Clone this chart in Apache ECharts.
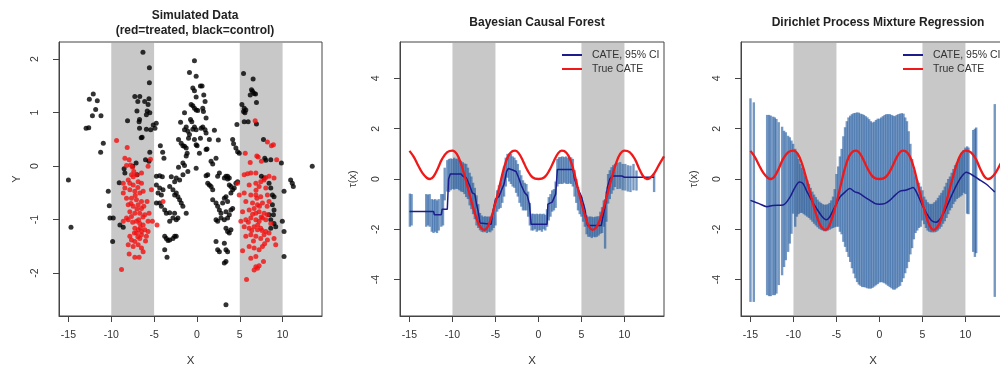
<!DOCTYPE html>
<html>
<head>
<meta charset="utf-8">
<script src="https://cdn.jsdelivr.net/npm/echarts@6/dist/echarts.min.js"></script>
<style>
  html, body { margin: 0; padding: 0; background: #fff; }
  #chart { width: 1000px; height: 366px; }
</style>
</head>
<body>
<div id="chart"></div>
<script>
// tick positions
var xTicks = [-15, -10, -5, 0, 5, 10];
var yTicksData = [-2, -1, 0, 1, 2];
var yTicksTau = [-4, -2, 0, 2, 4];

// shaded x-ranges
var shadedBands = [[-10, -5], [5, 10]];

// simulated data, [x, y]
var controlPoints = [
  [-15.0,-0.26],[-14.7,-1.14],
  [-12.94,0.71],[-12.63,0.72],[-12.56,1.25],[-12.1,1.35],[-11.63,1.22],[-11.82,1.06],[-12.2,0.94],[-11.2,0.94],[-10.93,0.43],[-11.24,0.26],
  [-10.35,-0.47],[-10.23,-0.74],[-10.15,-0.97],[-9.77,-0.97],[-9.84,-1.41],[-9.07,-0.31],[-8.99,-1.1],[-8.6,-1.14],[-8.41,-0.13],[-8.5,-0.05],[-8.1,0.85],
  [-6.98,-0.16],[-7.1,0.06],[-7.5,0.0],
  [-7.25,1.30],[-6.67,1.30],[-6.9,1.21],[-6.1,1.21],[-5.6,1.26],[-5.7,1.15],[-7.0,1.03],[-5.8,1.03],[-6.7,0.87],[-6.75,0.83],[-5.9,0.96],[-5.5,1.0],
  [-6.7,0.71],[-5.9,0.69],[-5.4,0.68],[-4.9,0.71],[-4.75,0.80],[-5.1,0.77],[-6.4,0.54],[-6.5,0.53],[-5.5,0.26],[-6.3,2.13],[-5.55,1.84],[-5.55,1.56],[-5.6,0.09],[-6.0,0.12],
  [-4.27,0.38],[-4.0,0.26],[-3.85,0.15],
  [-4.73,-0.19],[-4.35,-0.18],[-4.04,-0.2],[-2.99,-0.2],[-2.6,-0.29],[-2.41,-0.22],[-2.02,-0.26],[-1.63,-0.16],
  [-4.73,-0.35],[-4.35,-0.41],[-4.54,-0.5],[-4.15,-0.54],[-3.96,-0.44],[-3.18,-0.38],[-2.8,-0.44],[-2.6,-0.54],[-2.41,-0.5],[-2.22,-0.57],[-2.02,-0.63],[-1.83,-0.69],
  [-4.73,-0.69],[-4.35,-0.69],[-4.15,-0.75],[-3.76,-0.82],[-3.57,-0.88],[-3.18,-0.87],[-2.8,-0.97],[-2.41,-1.0],[-3.18,-1.03],
  [-3.76,-1.31],[-3.57,-1.35],[-3.38,-1.39],[-3.18,-1.38],[-2.8,-1.35],[-2.6,-1.31],[-3.76,-1.56],[-3.49,-1.7],
  [-2.61,-0.88],[-2.22,-0.97],[-2.42,-1.31],[-1.25,-0.88],[-1.64,-0.75],[-1.06,-0.10],
  [-0.29,1.97],[-0.87,1.75],[-0.09,1.68],[0.41,1.50],[0.60,1.50],[-0.48,1.46],[-0.29,1.41],[0.80,1.33],[0.95,1.21],[-0.09,1.29],
  [-0.68,1.15],[-0.48,1.13],[-0.29,1.08],[-0.09,1.05],[0.1,1.04],[0.68,1.08],[0.76,1.02],[-1.45,1.0],[1.07,0.9],[-0.75,0.87],[-0.6,0.83],
  [-1.91,0.82],[-1.25,0.73],[-1.45,0.68],[-0.29,0.73],[-0.09,0.68],[-0.48,0.69],[0.49,0.71],[0.68,0.73],[0.95,0.68],[1.07,0.62],[2.04,0.67],
  [-1.06,0.65],[-0.87,0.59],[-0.98,0.52],[0.41,0.52],[-0.29,0.50],[-2.15,0.50],[1.45,0.50],[2.5,0.49],[-1.84,0.43],[-1.64,0.38],[-1.45,0.37],
  [-1.25,0.34],[-0.09,0.40],[0.02,0.38],[1.18,0.32],[1.07,0.31],[0.29,0.24],[-1.14,0.24],[-1.25,0.19],[2.23,0.15],[1.65,0.09],[1.84,0.04],
  [-2.15,-0.02],[-0.09,-0.04],[-1.64,0.06],[-1.45,0.01],[1.26,-0.16],[2.62,-0.13],[3.39,-0.19],[3.78,-0.22],[3.58,-0.24],
  [4.28,0.42],[4.55,0.34],[4.75,0.27],[4.94,0.24],[4.67,0.78],[4.17,0.50],
  [5.44,1.73],[6.56,1.63],[6.37,1.43],[6.49,1.4],[6.68,1.36],[6.84,1.35],[6.22,1.33],[6.95,1.19],[5.25,1.15],[5.52,1.08],[5.71,1.05],
  [5.44,1.02],[5.6,1.0],[5.52,0.83],[5.98,0.83],[6.95,0.79],[7.77,0.50],[8.62,0.12],[9.86,0.06],[7.92,0.15],[8.04,0.11],[13.46,0.0],
  [1.07,-0.18],[1.26,-0.32],[1.45,-0.35],[1.65,-0.38],[1.84,-0.44],[2.42,-0.19],[3.2,-0.22],[3.58,-0.19],[3.78,-0.35],[3.97,-0.38],
  [1.84,-0.63],[2.23,-0.69],[2.42,-0.75],[2.62,-0.82],[2.81,-0.88],[3.0,-0.69],[3.2,-0.6],[3.39,-0.57],[3.58,-0.66],[3.97,-0.5],
  [4.17,-0.44],[4.36,-0.41],[4.55,-0.32],[4.75,-0.29],
  [2.23,-1.0],[2.42,-1.03],[2.81,-0.97],[3.2,-1.0],[3.58,-0.97],[3.78,-0.91],[3.39,-0.85],[3.97,-0.82],[4.17,-0.79],
  [3.39,-1.16],[3.58,-1.22],[3.78,-1.25],[3.97,-1.19],
  [2.23,-1.41],[2.42,-1.56],[2.62,-1.6],[3.2,-1.44],[3.39,-1.56],[3.58,-1.6],[3.39,-1.78],[3.2,-1.81],[3.39,-2.59],
  [7.84,-0.22],[8.42,-0.32],[8.62,-0.41],[8.81,-0.54],[9.0,-0.57],[8.81,-0.72],[9.0,-0.82],[8.93,-0.91],[9.0,-1.07],[9.2,-1.13],
  [8.42,-0.91],[8.62,-1.0],[8.62,-1.16],[9.97,-1.03],[10.17,-1.22],[10.17,-1.69],[10.17,-0.47],[10.94,-0.26],[11.13,-0.32],[11.25,-0.38],[7.53,-0.19]
];

var treatedPoints = [
  [-9.38,0.48],[-8.14,0.35],[-8.41,0.15],[-7.91,0.12],[-7.75,0.02],[-5.43,0.13],[-5.7,0.0],[-8.22,0.01],[-7.52,-0.02],[-7.37,-0.1],[-7.64,-0.16],
  [-7.06,-0.16],[-6.47,-0.13],[-7.44,-0.2],[-8.02,-0.26],[-7.83,-0.32],[-7.44,-0.35],[-6.86,-0.29],[-6.47,-0.32],[-8.6,-0.32],[-8.41,-0.41],
  [-8.6,-0.5],[-7.83,-0.44],[-7.25,-0.47],[-6.67,-0.5],[-6.28,-0.47],[-5.31,-0.44],[-8.22,-0.6],[-7.64,-0.6],[-7.06,-0.63],[-6.47,-0.66],
  [-5.82,-0.66],[-8.02,-0.72],[-7.44,-0.75],[-6.86,-0.72],[-6.47,-0.79],[-7.83,-0.85],[-7.25,-0.88],[-6.67,-0.88],[-6.09,-0.91],[-5.59,-0.88],
  [-8.22,-0.97],[-7.64,-0.94],[-8.02,-1.0],[-8.6,-1.03],[-7.06,-1.03],[-6.67,-1.07],[-6.28,-1.1],[-5.7,-1.03],[-5.2,-1.03],[-4.66,-1.1],
  [-7.25,-1.16],[-6.86,-1.19],[-6.47,-1.22],[-6.09,-1.19],[-5.7,-1.22],[-7.06,-1.25],[-6.47,-1.28],[-5.9,-1.31],[-6.67,-1.35],[-7.83,-1.31],
  [-7.64,-1.38],[-7.25,-1.41],[-8.02,-1.47],[-7.44,-1.5],[-6.86,-1.47],[-6.47,-1.53],[-6.28,-1.6],[-7.91,-1.64],[-7.25,-1.7],[-6.75,-1.7],
  [-8.8,-1.93],[-3.96,-0.66],
  [-7.2,-0.55],[-6.9,-0.4],[-7.0,-0.8],[-6.6,-1.15],[-6.9,-1.32],[-7.5,-1.05],[-6.2,-0.75],[-7.7,-0.7],[-6.0,-1.4],[-6.8,-1.0],[-7.3,-1.25],[-6.3,-0.95],
  [6.80,0.85],[8.23,0.45],[8.7,0.38],[8.93,0.40],[5.64,0.24],[6.22,0.07],[7.53,0.09],[6.99,0.19],[7.15,0.17],[9.31,0.12],[5.52,-0.16],
  [5.91,-0.14],[6.88,-0.13],[8.04,-0.21],[9.0,-0.22],[6.29,-0.13],[8.42,-0.19],[7.45,-0.29],[7.84,-0.26],
  [4.75,-0.32],[6.1,-0.35],[6.88,-0.32],[7.26,-0.38],[8.04,-0.41],
  [4.94,-0.54],[5.52,-0.5],[6.29,-0.54],[6.88,-0.54],[7.45,-0.57],[8.23,-0.54],
  [5.71,-0.66],[6.49,-0.69],[7.07,-0.72],[7.65,-0.69],[8.42,-0.66],
  [5.33,-0.85],[6.1,-0.82],[6.68,-0.79],[6.88,-0.88],[7.26,-0.85],[7.84,-0.88],[8.23,-0.91],
  [5.13,-1.03],[5.71,-1.0],[6.29,-0.97],[6.88,-1.0],[7.26,-1.03],[7.65,-0.97],[8.04,-1.0],[8.62,-1.07],
  [5.52,-1.13],[6.1,-1.16],[6.68,-1.13],[7.07,-1.19],[7.45,-1.16],[8.04,-1.22],[8.42,-1.25],
  [5.71,-1.31],[6.29,-1.28],[6.88,-1.31],[7.45,-1.35],[7.84,-1.28],[8.23,-1.38],[9.0,-1.35],
  [6.1,-1.5],[6.68,-1.53],[7.26,-1.56],[7.65,-1.5],[9.2,-1.47],
  [5.33,-1.58],[6.29,-1.72],[6.88,-1.69],[7.77,-1.78],
  [6.88,-1.88],[7.07,-1.91],[7.26,-1.86],[5.79,-2.12],[6.68,-1.94],
  [7.0,-0.6],[7.3,-0.75],[6.5,-0.9],[7.1,-1.1],[6.4,-1.2],[7.6,-1.2],[6.9,-0.45],[7.5,-0.95],[6.0,-1.05],[8.2,-0.75],[7.9,-1.45],[6.6,-1.4]
];

// true CATE curve, [x, tau]
var trueCate = [
  [-15,1.12],[-14.5,0.88],[-14,0.55],[-13.5,0.24],[-13,0.05],[-12.6,0.0],[-12.2,0.1],[-11.7,0.42],[-11.2,0.8],[-10.6,1.07],[-10,1.13],
  [-9.5,1.0],[-9,0.6],[-8.5,0.02],[-8,-0.62],[-7.5,-1.25],[-7,-1.75],[-6.6,-1.97],[-6.25,-2.02],[-5.9,-1.9],[-5.5,-1.55],[-5,-0.95],
  [-4.5,-0.25],[-4,0.45],[-3.5,0.92],[-3,1.11],[-2.7,1.13],[-2.3,1.03],[-1.8,0.72],[-1.3,0.36],[-0.7,0.07],[0,0.0],[0.7,0.07],
  [1.3,0.36],[1.8,0.72],[2.3,1.03],[2.7,1.13],[3,1.11],[3.5,0.92],[4,0.45],[4.5,-0.25],[5,-0.95],[5.5,-1.55],[5.9,-1.9],[6.25,-2.02],
  [6.6,-1.97],[7,-1.75],[7.5,-1.25],[8,-0.62],[8.5,0.02],[9,0.6],[9.5,1.0],[10,1.13],[10.6,1.07],[11.2,0.8],[11.7,0.42],[12.2,0.1],
  [12.6,0.0],[13,0.05],[13.5,0.24],[14,0.55],[14.6,0.9]
];

// Bayesian causal forest: posterior mean and 95% intervals [x, lower, upper]
var bcfMean = [
  [-15,-1.29],[-12.2,-1.29],[-12.1,-1.42],[-11.3,-1.42],[-11.2,-1.2],[-10.6,-1.2],[-10.45,0.0],[-10.25,0.2],[-9.0,0.2],[-8.8,0.12],
  [-8.4,0.05],[-8.2,-0.1],[-7.9,-0.35],[-7.7,-0.55],[-7.4,-0.6],[-7.2,-1.0],[-7.0,-1.3],[-6.8,-1.75],[-5.5,-1.8],[-5.3,-1.3],[-5.0,-0.8],
  [-4.6,-0.7],[-4.3,-0.45],[-4.0,-0.2],[-3.7,0.3],[-3.5,0.42],[-3.0,0.36],[-2.6,0.3],[-2.3,0.05],[-2.0,-0.25],[-1.6,-0.55],[-1.3,-0.65],
  [-1.05,-1.0],[-0.85,-1.8],[1.0,-1.8],[1.1,-1.0],[1.6,-0.92],[2.0,-0.6],[2.2,0.38],[4.0,0.38],[4.2,0.0],[4.6,-0.4],[5.0,-0.7],[5.4,-1.2],
  [5.7,-1.85],[7.3,-1.85],[7.5,-1.5],[7.8,-1.0],[8.0,-0.35],[8.3,0.0],[8.6,0.12],[9.7,0.12],[10.0,0.07],[13.45,0.07]
];
var bcfIntervals = [
  [-14.95,-1.9,-0.58],[-14.75,-1.85,-0.6],[-13.05,-1.9,-0.6],[-12.85,-1.85,-0.62],[-12.65,-1.9,-0.6],[-12.4,-2.1,-0.8],[-12.2,-2.15,-0.82],
  [-12.0,-2.1,-0.8],[-11.8,-2.15,-0.85],[-11.6,-2.05,-0.8],[-11.3,-1.9,-0.6],[-11.1,-1.85,-0.6],[-10.9,-0.85,0.45],
  [-10.6,-0.5,0.75],[-10.4,-0.52,0.8],[-10.2,-0.45,0.82],[-10.0,-0.4,0.8],[-9.8,-0.42,0.85],[-9.6,-0.39,0.8],[-9.4,-0.4,0.82],[-9.2,-0.45,0.75],
  [-9.0,-0.5,0.72],[-8.8,-0.52,0.67],[-8.6,-0.6,0.62],[-8.4,-0.72,0.6],[-8.2,-0.8,0.45],[-8.0,-1.05,0.25],[-7.8,-1.2,0.1],[-7.6,-1.4,-0.15],
  [-7.4,-1.6,-0.35],[-7.2,-1.85,-0.65],[-7.0,-1.95,-1.0],[-6.8,-2.04,-1.35],[-6.6,-2.1,-1.45],[-6.4,-2.12,-1.5],[-6.2,-2.1,-1.48],
  [-6.0,-2.15,-1.5],[-5.8,-2.1,-1.49],[-5.6,-2.12,-1.5],[-5.4,-2.05,-1.45],[-5.2,-1.95,-1.2],[-5.0,-1.85,-1.05],[-4.8,-1.3,-0.45],
  [-4.6,-1.2,-0.25],[-4.4,-1.15,-0.15],[-4.2,-0.95,0.2],[-4.0,-0.7,0.5],[-3.8,-0.3,0.85],[-3.6,0.05,1.0],[-3.4,-0.1,1.02],[-3.2,-0.2,1.0],
  [-3.0,-0.3,0.9],[-2.8,-0.35,0.85],[-2.6,-0.55,0.75],[-2.4,-0.7,0.6],[-2.2,-0.95,0.35],[-2.0,-1.1,0.15],[-1.8,-1.25,-0.05],[-1.6,-1.25,-0.15],
  [-1.4,-1.25,-0.2],[-1.2,-1.5,-0.5],[-1.0,-1.85,-0.95],[-0.8,-2.05,-1.38],[-0.6,-2.05,-1.38],[-0.4,-2.0,-1.4],[-0.2,-2.1,-1.38],[0.0,-2.05,-1.4],
  [0.2,-2.04,-1.38],[0.4,-2.1,-1.4],[0.6,-2.0,-1.38],[0.8,-2.05,-1.42],[1.0,-1.9,-1.2],[1.2,-1.65,-0.72],[1.4,-1.5,-0.6],[1.6,-1.3,-0.45],
  [1.8,-1.25,-0.4],[2.0,-1.15,-0.1],[2.2,-0.3,0.8],[2.4,-0.2,0.87],[2.6,-0.19,0.88],[2.8,-0.2,0.9],[3.0,-0.15,0.87],[3.2,-0.19,0.9],
  [3.4,-0.2,0.85],[3.6,-0.18,0.88],[3.8,-0.2,0.86],[4.0,-0.3,0.8],[4.2,-0.7,0.35],[4.4,-0.95,0.0],[4.6,-1.25,-0.32],[4.8,-1.4,-0.55],
  [5.0,-1.5,-0.72],[5.2,-1.7,-1.0],[5.4,-1.9,-1.25],[5.6,-2.2,-1.45],[5.8,-2.3,-1.5],[6.0,-2.3,-1.49],[6.2,-2.35,-1.5],[6.4,-2.3,-1.52],
  [6.6,-2.32,-1.5],[6.8,-2.3,-1.49],[7.0,-2.25,-1.48],[7.2,-2.18,-1.3],[7.4,-2.15,-1.12],[7.6,-1.9,-0.85],[7.75,-2.77,-0.8],[7.9,-1.7,-0.5],
  [8.1,-0.98,0.2],[8.3,-0.8,0.35],[8.5,-0.59,0.47],[8.7,-0.45,0.55],[8.9,-0.32,0.6],[9.2,-0.4,0.65],[9.5,-0.39,0.67],[9.8,-0.45,0.6],
  [10.1,-0.46,0.6],[10.4,-0.5,0.55],[10.7,-0.52,0.53],[11.05,-0.45,0.6],[11.4,-0.46,0.34],[13.45,-0.52,0.21]
];

// Dirichlet process mixture: posterior mean and 95% intervals [x, lower, upper]
var dpmMean = [
  [-15,-0.85],[-14,-0.98],[-13.1,-1.1],[-12.4,-1.05],[-11.2,-1.03],[-10.4,-0.72],[-9.85,-0.35],[-9.3,-0.12],[-8.9,-0.18],[-8.5,-0.45],
  [-7.9,-0.85],[-7.3,-1.18],[-6.7,-1.48],[-6.2,-1.62],[-5.8,-1.52],[-5.4,-1.25],[-5.0,-0.98],[-4.6,-0.72],[-4.0,-0.52],[-3.45,-0.38],
  [-2.9,-0.5],[-2.3,-0.58],[-1.7,-0.72],[-1.1,-0.85],[-0.5,-0.98],[0,-1.0],[0.6,-0.98],[1.2,-0.85],[1.8,-0.65],[2.4,-0.48],[3.0,-0.45],
  [3.5,-0.39],[3.9,-0.34],[4.3,-0.52],[4.9,-0.98],[5.5,-1.38],[6.05,-1.65],[6.6,-1.72],[7.2,-1.52],[7.8,-1.12],[8.4,-0.65],[8.95,-0.25],
  [9.5,0.07],[10.1,0.27],[10.7,0.18],[11.5,0.0],[12.4,-0.2],[13.41,-0.52]
];
var dpmIntervals = [
  [-15.0,-4.89,3.21],[-14.61,-4.89,3.05],[-13.06,-4.62,2.55],[-12.83,-4.66,2.55],[-12.64,-4.66,2.52],[-12.36,-4.62,2.48],[-12.17,-4.62,2.45],
  [-11.98,-4.56,2.39],[-11.71,-4.22,2.26],[-11.32,-3.83,2.08],[-11.09,-3.5,1.92],[-10.89,-3.23,1.86],[-10.62,-2.9,1.72],[-10.43,-2.57,1.66],
  [-10.23,-2.18,1.53],[-10.04,-1.38,1.4],
  [-9.8,-1.9,1.2],[-9.6,-1.5,1.0],[-9.4,-1.4,0.8],[-9.2,-1.35,0.6],[-9.0,-1.35,0.45],[-8.8,-1.4,0.3],[-8.6,-1.45,0.1],[-8.4,-1.5,-0.05],
  [-8.2,-1.55,-0.2],[-8.0,-1.62,-0.35],[-7.8,-1.7,-0.5],[-7.6,-1.78,-0.62],[-7.4,-1.85,-0.72],[-7.2,-1.92,-0.82],[-7.0,-1.98,-0.9],
  [-6.8,-2.02,-0.95],[-6.6,-2.05,-1.0],[-6.4,-2.08,-1.02],[-6.2,-2.08,-1.02],[-6.0,-2.05,-1.0],[-5.8,-2.02,-0.95],[-5.6,-1.98,-0.85],
  [-5.4,-1.95,-0.7],[-5.2,-1.92,-0.4],
  [-5.0,-1.9,0.2],[-4.8,-1.9,0.5],[-4.6,-2.1,0.9],[-4.4,-2.2,1.2],[-4.2,-2.5,1.7],[-4.0,-2.7,2.06],[-3.8,-2.9,2.3],[-3.6,-3.1,2.45],
  [-3.4,-3.3,2.52],[-3.2,-3.55,2.58],[-3.0,-3.76,2.62],[-2.8,-3.95,2.63],[-2.6,-4.1,2.65],[-2.4,-4.2,2.64],[-2.2,-4.25,2.6],[-2.0,-4.3,2.58],
  [-1.8,-4.3,2.55],[-1.6,-4.32,2.5],[-1.4,-4.35,2.45],[-1.2,-4.36,2.38],[-1.0,-4.36,2.3],[-0.8,-4.33,2.25],[-0.6,-4.28,2.28],[-0.4,-4.23,2.35],
  [-0.2,-4.18,2.4],[0.0,-4.12,2.4],[0.2,-4.1,2.45],[0.4,-4.12,2.5],[0.6,-4.15,2.55],[0.8,-4.2,2.58],[1.0,-4.25,2.58],[1.2,-4.3,2.58],
  [1.4,-4.35,2.55],[1.6,-4.4,2.52],[1.8,-4.4,2.5],[2.0,-4.35,2.55],[2.2,-4.3,2.58],[2.4,-4.25,2.6],[2.6,-4.1,2.62],[2.8,-3.95,2.6],
  [3.0,-3.75,2.45],[3.2,-3.55,2.3],[3.4,-3.3,1.9],[3.6,-3.0,1.4],[3.8,-2.75,0.8],[4.0,-2.4,0.35],[4.2,-2.15,0.1],[4.4,-2.05,-0.05],
  [4.6,-1.95,-0.15],[4.8,-1.9,-0.3],
  [5.0,-1.65,-0.45],[5.2,-1.8,-0.7],[5.4,-1.95,-0.82],[5.6,-2.05,-0.92],[5.8,-2.1,-0.98],[6.0,-2.12,-1.0],[6.2,-2.12,-0.98],[6.4,-2.12,-0.92],
  [6.6,-2.1,-0.85],[6.8,-2.05,-0.75],[7.0,-1.98,-0.65],[7.2,-1.9,-0.55],[7.4,-1.78,-0.45],[7.6,-1.68,-0.3],[7.8,-1.55,-0.15],[8.0,-1.4,0.0],
  [8.2,-1.25,0.1],[8.4,-1.15,0.25],[8.6,-1.0,0.4],[8.8,-0.9,0.55],[9.0,-0.8,0.65],[9.2,-0.75,0.8],[9.4,-0.7,0.9],[9.6,-0.65,1.05],
  [9.8,-0.55,1.15],[10.0,-0.6,1.25],[10.2,-1.38,1.3],[10.35,-1.4,1.25],[10.9,-2.9,1.95],[11.1,-3.1,2.0],[11.25,-2.95,2.05],[13.41,-4.69,2.98]
];

var FONT = 'Liberation Sans, Arial, sans-serif';
var TEXT = '#333';
var FRAME = '#444';
var SHADE = '#c8c8c8';
var CI_COLOR = 'rgba(32,88,158,0.62)';
var MEAN_COLOR = '#1c1c8c';
var TRUE_COLOR = '#f01818';

var grids = [
  { left: 59, top: 42, width: 263, height: 274 },
  { left: 400, top: 42, width: 264, height: 274 },
  { left: 741, top: 42, width: 264, height: 274 }
];

function makeX(gi) {
  return {
    type: 'value', gridIndex: gi, min: -16.1, max: 14.6,
    name: 'X', nameLocation: 'middle', nameGap: 39,
    nameTextStyle: { fontFamily: FONT, fontSize: 11.5, color: TEXT },
    axisLine: { show: true, onZero: false, lineStyle: { color: FRAME } },
    axisTick: { show: true, length: 6, customValues: xTicks, lineStyle: { color: FRAME } },
    axisLabel: { customValues: xTicks, margin: 14, fontFamily: FONT, fontSize: 10.5, color: TEXT },
    splitLine: { show: false }
  };
}

function makeY(gi, min, max, ticks, name, gap) {
  return {
    type: 'value', gridIndex: gi, min: min, max: max,
    name: name, nameLocation: 'middle', nameGap: gap, nameRotate: 90,
    nameTextStyle: { fontFamily: FONT, fontSize: 11, color: TEXT },
    axisLine: { show: true, onZero: false, lineStyle: { color: FRAME } },
    axisTick: { show: true, length: 6, customValues: ticks, lineStyle: { color: FRAME } },
    axisLabel: { customValues: ticks, rotate: 90, margin: 18, fontFamily: FONT, fontSize: 10.5, color: TEXT },
    splitLine: { show: false }
  };
}

function shadeSeries(gi) {
  return {
    type: 'custom', xAxisIndex: gi, yAxisIndex: gi, z: 1, silent: true,
    data: shadedBands,
    encode: { x: [0, 1] },
    renderItem: function (params, api) {
      var cs = params.coordSys;
      var a = api.coord([api.value(0), 0]);
      var b = api.coord([api.value(1), 0]);
      return {
        type: 'rect',
        shape: { x: a[0], y: cs.y + 1, width: b[0] - a[0], height: cs.height - 2 },
        style: { fill: SHADE }
      };
    }
  };
}

function intervalSeries(gi, rows) {
  return {
    type: 'custom', name: 'CI', xAxisIndex: gi, yAxisIndex: gi, z: 2, silent: true,
    data: rows,
    encode: { x: 0, y: [1, 2] },
    renderItem: function (params, api) {
      var lo = api.coord([api.value(0), api.value(1)]);
      var hi = api.coord([api.value(0), api.value(2)]);
      return {
        type: 'line',
        shape: { x1: lo[0], y1: lo[1], x2: hi[0], y2: hi[1] },
        style: { stroke: CI_COLOR, lineWidth: 2.4 }
      };
    }
  };
}

function meanSeries(gi, rows, smooth) {
  return {
    type: 'line', name: 'CATE, 95% CI', xAxisIndex: gi, yAxisIndex: gi, z: 4,
    data: rows, showSymbol: false, smooth: smooth,
    itemStyle: { color: MEAN_COLOR },
    lineStyle: { color: MEAN_COLOR, width: 1.5 }
  };
}

function trueSeries(gi) {
  return {
    type: 'line', name: 'True CATE', xAxisIndex: gi, yAxisIndex: gi, z: 5,
    data: trueCate, showSymbol: false, smooth: 0.4,
    itemStyle: { color: TRUE_COLOR },
    lineStyle: { color: TRUE_COLOR, width: 2.3 }
  };
}

function legendAt(left) {
  return {
    left: left, top: 49, orient: 'vertical', selectedMode: false,
    icon: 'rect', itemWidth: 20, itemHeight: 2, itemGap: 2, padding: 0,
    data: ['CATE, 95% CI', 'True CATE'],
    textStyle: { fontFamily: FONT, fontSize: 10.5, color: TEXT, lineHeight: 12, padding: [0, 0, 0, 5] }
  };
}

var titleStyle = { fontFamily: FONT, fontSize: 12, fontWeight: 'bold', color: '#222', lineHeight: 15 };

var chart = echarts.init(document.getElementById('chart'), null, { renderer: 'canvas' });
chart.setOption({
  animation: false,
  backgroundColor: '#fff',
  title: [
    { text: 'Simulated Data\n(red=treated, black=control)', left: 190, top: 3, textAlign: 'center', textStyle: titleStyle },
    { text: 'Bayesian Causal Forest', left: 532, top: 10, textAlign: 'center', textStyle: titleStyle },
    { text: 'Dirichlet Process Mixture Regression', left: 873, top: 10, textAlign: 'center', textStyle: titleStyle }
  ],
  legend: [legendAt(562), legendAt(903)],
  grid: grids.map(function (g) {
    return Object.assign({
      show: true, borderColor: FRAME, borderWidth: 1, backgroundColor: 'transparent',
      containLabel: false, outerBoundsMode: 'none'
    }, g);
  }),
  xAxis: [makeX(0), makeX(1), makeX(2)],
  yAxis: [
    makeY(0, -2.8, 2.32, yTicksData, 'Y', 37),
    makeY(1, -5.45, 5.45, yTicksTau, 'τ(x)', 42),
    makeY(2, -5.45, 5.45, yTicksTau, 'τ(x)', 42)
  ],
  series: [
    shadeSeries(0),
    {
      type: 'scatter', name: 'control', xAxisIndex: 0, yAxisIndex: 0, z: 3,
      data: controlPoints, symbolSize: 5, itemStyle: { color: '#000' }
    },
    {
      type: 'scatter', name: 'treated', xAxisIndex: 0, yAxisIndex: 0, z: 3,
      data: treatedPoints, symbolSize: 5, itemStyle: { color: '#f41010' }
    },
    shadeSeries(1),
    intervalSeries(1, bcfIntervals),
    meanSeries(1, bcfMean, false),
    trueSeries(1),
    shadeSeries(2),
    intervalSeries(2, dpmIntervals),
    meanSeries(2, dpmMean, 0.3),
    trueSeries(2)
  ]
});
</script>
</body>
</html>
